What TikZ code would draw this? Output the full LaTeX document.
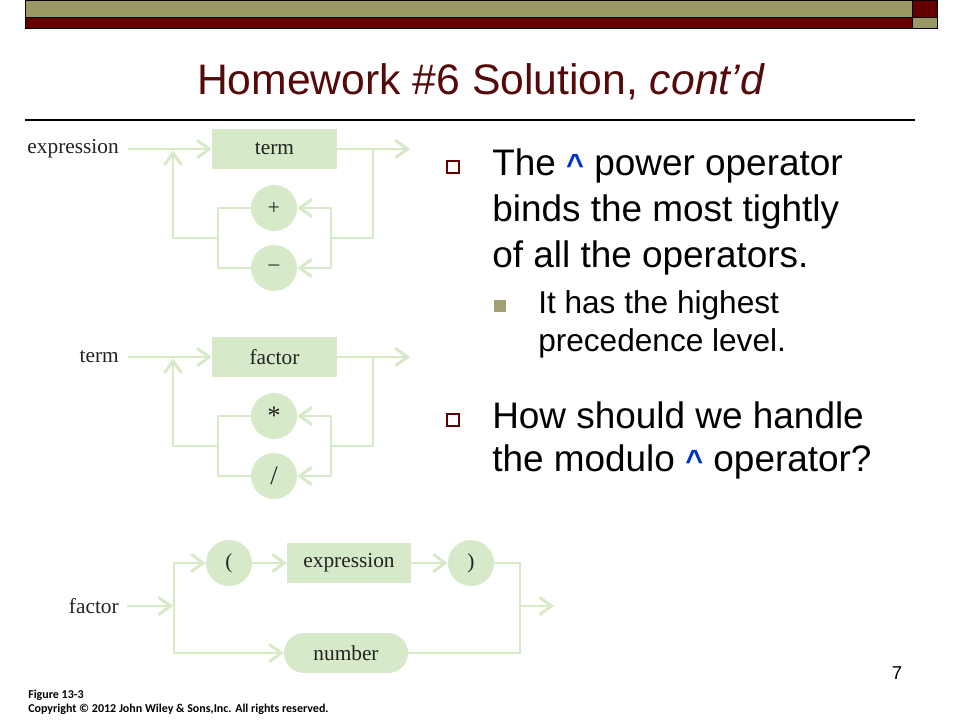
\documentclass[tikz,border=0pt]{standalone}
\usepackage{fontspec}
\newfontfamily\arialf{Liberation Sans}
\newfontfamily\serf{Liberation Serif}
\newfontfamily\capf{Carlito}
\usetikzlibrary{arrows.meta,shapes.misc}
\definecolor{olivec}{RGB}{153,153,102}
\definecolor{darkredc}{RGB}{102,0,0}
\definecolor{titlec}{RGB}{85,10,10}
\definecolor{gfill}{RGB}{214,233,200}
\definecolor{glinec}{RGB}{214,234,200}
\definecolor{tgray}{RGB}{35,35,35}
\definecolor{caretblue}{RGB}{0,51,204}
\definecolor{subbul}{RGB}{160,160,115}
\tikzset{
  gline/.style={draw=glinec, line width=2.2pt, line join=miter},
  garrow/.style={gline, -{Straight Barb[length=9pt,width=13pt]}},
  lbl/.style={font=\serf\fontsize{16}{19}\selectfont, text=tgray, inner sep=0pt},
  gbox/.style={rectangle, fill=gfill, minimum width=93.75pt, minimum height=30pt, inner sep=0pt, font=\serf\fontsize{16}{19}\selectfont, text=tgray},
  gcirc/.style={circle, fill=gfill, minimum size=34.5pt, inner sep=0pt, font=\serf\fontsize{16}{19}\selectfont, text=tgray},
  gpill/.style={rounded rectangle, fill=gfill, minimum width=93pt, minimum height=30pt, inner sep=0pt, font=\serf\fontsize{16}{19}\selectfont, text=tgray},
  mainf/.style={font=\arialf\fontsize{27.7}{32}\selectfont, anchor=base west, inner sep=0pt},
  subf/.style={font=\arialf\fontsize{23.7}{28}\selectfont, anchor=base west, inner sep=0pt},
  hollowbul/.style={draw=darkredc, line width=1.5pt, minimum size=8.5pt, inner sep=0pt},
}
\newcommand{\caret}{{\color{caretblue}\bfseries\fontsize{23}{28}\selectfont\textasciicircum}}
\newcommand{\loopdiagram}[6]{%
  \begin{scope}[shift={(0,#6)}]
    \node[lbl, anchor=east] (#1L) at (119,149) {#2};
    \node[gbox] (#1T) at (274.5,149) {#3};
    \node[gcirc] (#1P) at (274,208) {#4};
    \node[gcirc] (#1M) at (274,268) {#5};
    \coordinate (#1A) at (128,149);
    \coordinate (#1J1) at (173,150.5);
    \coordinate (#1J2) at (173,238);
    \coordinate (#1J3) at (218,238);
    \coordinate (#1J4) at (218,208);
    \coordinate (#1J5) at (218,268);
    \coordinate (#1K1) at (373,149);
    \coordinate (#1K2) at (373,238);
    \coordinate (#1K3) at (331,238);
    \coordinate (#1K4) at (331,208);
    \coordinate (#1K5) at (331,268);
    \coordinate (#1E) at (410,149);
    \draw[garrow] (#1A) -- (#1T.west);
    \draw[garrow] (#1T.east) -- (#1E);
    \draw[garrow] (#1J3) -- (#1J2) -- (#1J1);
    \draw[gline] (#1P.west) -- (#1J4) -- (#1J5) -- (#1M.west);
    \draw[gline] (#1K1) -- (#1K2) -- (#1K3);
    \draw[gline] (#1K4) -- (#1K5);
    \draw[garrow] (#1K4) -- (#1P.east);
    \draw[garrow] (#1K5) -- (#1M.east);
  \end{scope}}
\begin{document}
\begin{tikzpicture}[x=0.75pt,y=-0.75pt]
\useasboundingbox[fill=white] (0,0) rectangle (960,720);
% header bars
\draw[fill=olivec, line width=0.6pt] (25,0) rectangle (912,17);
\draw[fill=darkredc, line width=0.6pt] (25,17) rectangle (912,28);
\draw[fill=darkredc, line width=0.6pt] (912,0) rectangle (937,17);
\draw[fill=olivec, line width=0.6pt] (912,17) rectangle (937,28);
% title
\node[anchor=base, font=\arialf\fontsize{32}{38}\selectfont, text=titlec, inner sep=0pt] (title) at (481,95) {Homework \#6 Solution, \textit{cont’d}};
\draw[line width=0.9pt] (25,120) -- (915,120);
% syntax diagrams
\loopdiagram{e}{expression}{term}{+}{–}{0}
\loopdiagram{t}{term}{factor}{\fontsize{20}{20}\selectfont *}{\fontsize{20}{20}\selectfont /}{208}
% factor diagram
\node[lbl, anchor=east] (fL) at (119,606) {factor};
\coordinate (fA) at (127,606);
\coordinate (fV) at (173,606);
\coordinate (fVt) at (174,563);
\coordinate (fVb) at (174,653);
\node[gcirc] (fO) at (229,563) {(};
\node[gbox, minimum width=93pt] (fE) at (349,563) {expression};
\node[gcirc] (fC) at (471,563) {)};
\node[gpill] (fN) at (346,653) {number};
\coordinate (fR1) at (520,563);
\coordinate (fR2) at (520,653);
\coordinate (fX) at (520,606);
\coordinate (fXe) at (554,606);
\draw[garrow] (fA) -- (fV);
\draw[garrow] (fVt) -- (fVb) -- (fN.west);
\draw[garrow] (fVb) -- (fVt) -- (fO.west);
\draw[garrow] (fO.east) -- (fE.west);
\draw[garrow] (fE.east) -- (fC.west);
\draw[gline] (fC.east) -- (fR1) -- (fR2) -- (fN.east);
\draw[garrow] (fX) -- (fXe);
% bullets and text
\node[hollowbul] (bul1) at (453,167) {};
\node[mainf] (l1) at (492,176) {The \caret{} power operator};
\node[mainf] (l2) at (492,222) {binds the most tightly};
\node[mainf] (l3) at (492,268) {of all the operators.};
\node[fill=subbul, minimum size=9.5pt, inner sep=0pt] (bul2) at (500,306) {};
\node[subf] (s1) at (538,313) {It has the highest};
\node[subf] (s2) at (538,351) {precedence level.};
\node[hollowbul] (bul3) at (453,420) {};
\node[mainf] (l4) at (492,428) {How should we handle};
\node[mainf] (l5) at (492,471) {the modulo \caret{} operator?};
% caption and page number
\node[anchor=base west, font=\capf\bfseries\fontsize{9}{10}\selectfont, inner sep=0pt] (cap1) at (28,698) {Figure 13-3};
\node[anchor=base west, font=\capf\bfseries\fontsize{9}{10}\selectfont, inner sep=0pt] (cap2) at (28,712) {Copyright © 2012 John Wiley \& Sons,Inc. All rights reserved.};
\node[anchor=base, font=\arialf\fontsize{14}{16}\selectfont, inner sep=0pt] (pg) at (897,679) {7};
\end{tikzpicture}
\end{document}
